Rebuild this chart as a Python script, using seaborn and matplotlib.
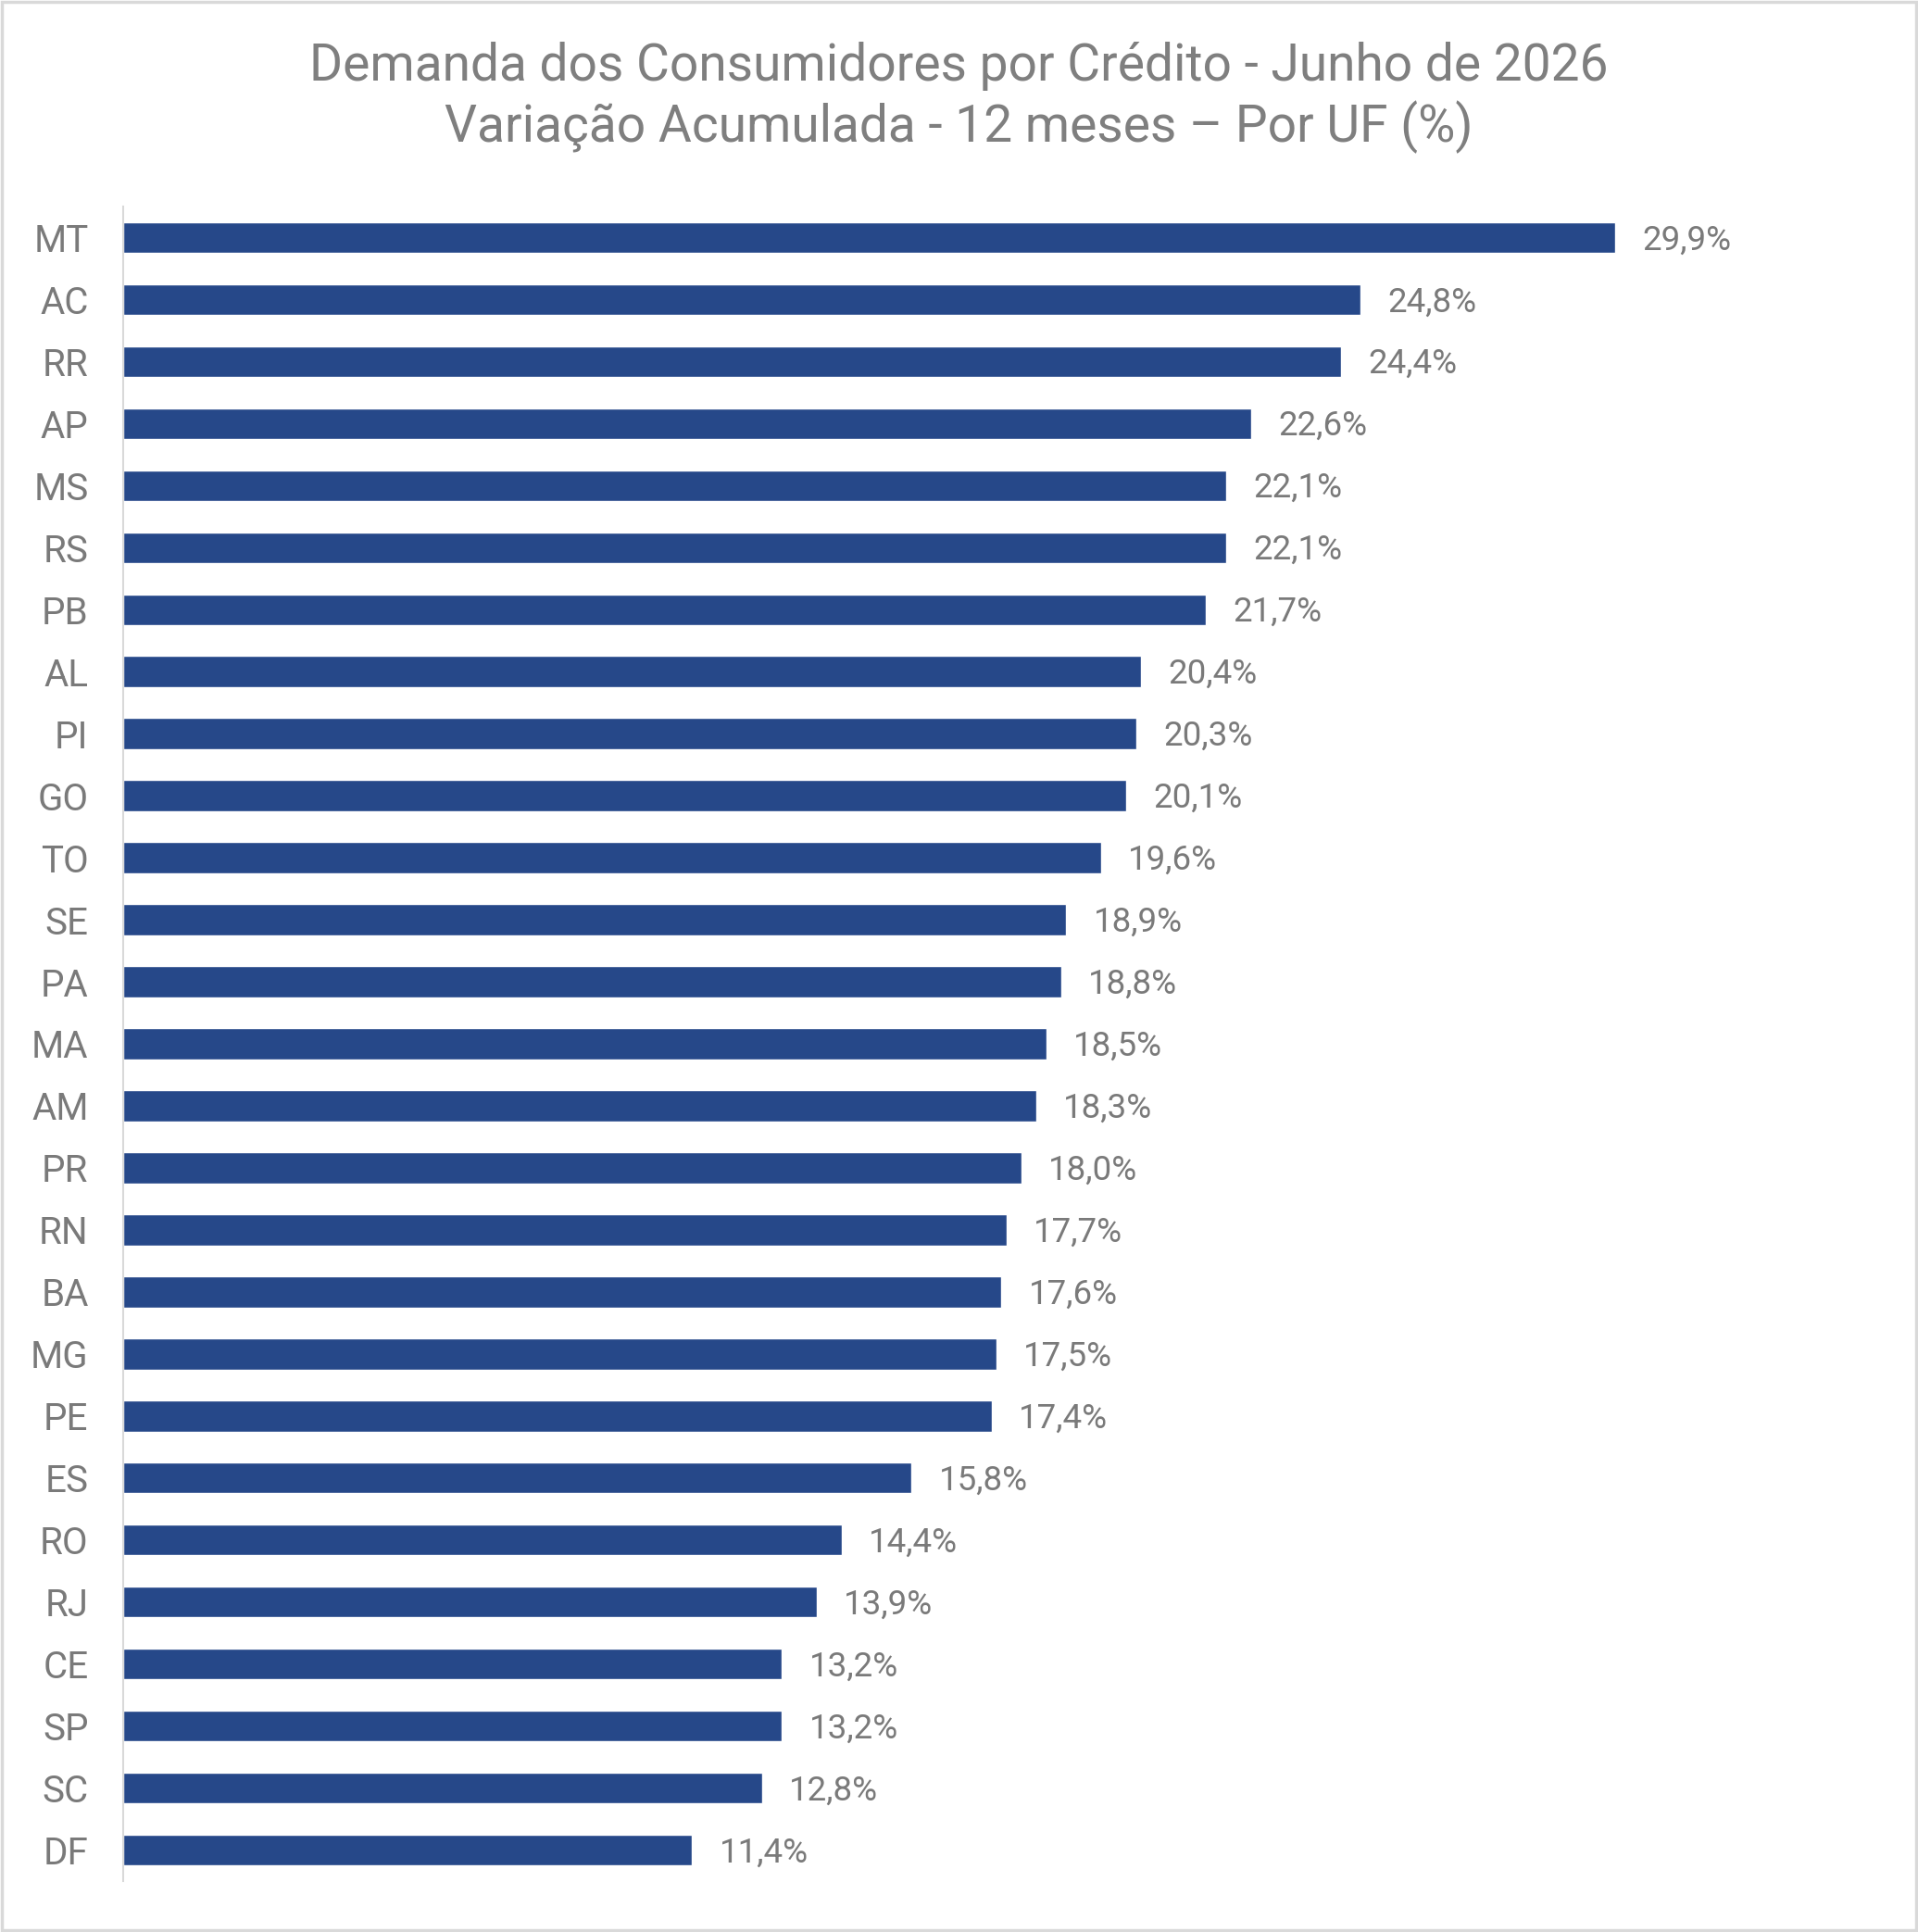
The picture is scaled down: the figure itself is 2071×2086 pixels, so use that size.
import pandas as pd
import matplotlib.pyplot as plt
import seaborn as sns
from matplotlib.patches import Rectangle

estados = ['MT', 'AC', 'RR', 'AP', 'MS', 'RS', 'PB', 'AL', 'PI', 'GO', 'TO', 'SE', 'PA', 'MA',
           'AM', 'PR', 'RN', 'BA', 'MG', 'PE', 'ES', 'RO', 'RJ', 'CE', 'SP', 'SC', 'DF']
variacao = [29.9, 24.8, 24.4, 22.6, 22.1, 22.1, 21.7, 20.4, 20.3, 20.1, 19.6, 18.9, 18.8, 18.5,
            18.3, 18.0, 17.7, 17.6, 17.5, 17.4, 15.8, 14.4, 13.9, 13.2, 13.2, 12.8, 11.4]
titulo = ['Demanda dos Consumidores por Crédito - Junho de 2026',
          'Variação Acumulada - 12 meses – Por UF (%)']

df = pd.DataFrame({'UF': estados, 'Variacao': variacao})

sns.set_style('white')
plt.rcParams['font.family'] = ['Roboto', 'DejaVu Sans']

W, H = 2071, 2086
fig = plt.figure(figsize=(W / 100, H / 100), dpi=100)
ax = fig.add_axes([133 / W, 1 - 2031 / H, (2019 - 133) / W, (2031 - 223) / H])

sns.barplot(data=df, x='Variacao', y='UF', orient='h', color='#264889',
            width=0.5, saturation=1, ax=ax)

ax.set_xlim(0, 35)
ax.set_ylim(len(estados) - 0.5, -0.5)
ax.set_xlabel('')
ax.set_ylabel('')
ax.set_xticks([])
ax.tick_params(axis='y', length=0, pad=27, labelsize=29, labelcolor='#7a7a7a')
for s in ['top', 'right', 'bottom']:
    ax.spines[s].set_visible(False)
ax.spines['left'].set_color('#d9d9d9')
ax.spines['left'].set_linewidth(1.5)

for i, v in enumerate(variacao):
    ax.annotate(f'{v:.1f}'.replace('.', ',') + '%', xy=(v, i), xytext=(21, -2),
                textcoords='offset points', va='center', ha='left',
                fontsize=26.5, color='#7a7a7a')

fig.text(0.5, 1 - 87 / H, titulo[0], ha='center', va='baseline', fontsize=39.7, color='#7f7f7f')
fig.text(0.5, 1 - 153 / H, titulo[1], ha='center', va='baseline', fontsize=39.7, color='#7f7f7f')

fig.patches.append(Rectangle((0.001, 0.001), 0.998, 0.998, transform=fig.transFigure,
                             fill=False, edgecolor='#d9d9d9', linewidth=2.5))

fig.savefig('out.png', dpi=100)
